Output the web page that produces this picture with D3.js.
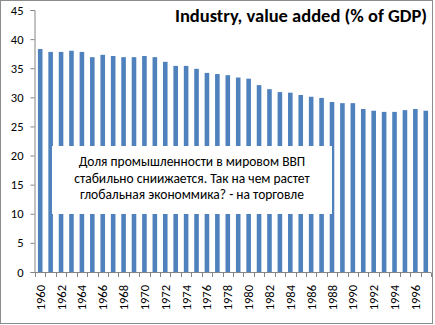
<!DOCTYPE html>
<html><head><meta charset="utf-8">
<script src="https://cdn.jsdelivr.net/npm/d3@7"></script>
<style>body{margin:0;background:#fff}svg{display:block}</style>
</head><body>
<svg id="c" width="435" height="325"></svg>
<script>
const years = [1960,1961,1962,1963,1964,1965,1966,1967,1968,1969,1970,1971,1972,1973,1974,1975,1976,1977,1978,1979,1980,1981,1982,1983,1984,1985,1986,1987,1988,1989,1990,1991,1992,1993,1994,1995,1996,1997];
const values = [38.3,37.8,37.8,38.0,37.8,36.9,37.3,37.1,36.9,36.9,37.1,36.9,36.1,35.4,35.4,34.9,34.2,34.0,33.8,33.4,33.2,32.1,31.4,30.9,30.8,30.4,30.1,29.9,29.2,29.0,29.0,28.0,27.7,27.5,27.5,27.8,28.0,27.7];
const yTicks = [0,5,10,15,20,25,30,35,40,45];
const xLabels = years.filter((y,i)=>i%2===0);
const title = "Industry, value added (% of GDP)";
const note = ["Доля промышленности в мировом ВВП","стабильно сниижается. Так на чем растет","глобальная экономмика? - на торговле"];

const svg = d3.select("#c");
const font = "Carlito, Lato, 'Open Sans', sans-serif";
svg.append("rect").attr("x",0.5).attr("y",0.5).attr("width",432).attr("height",323)
  .attr("fill","#fff").attr("stroke","#8c8c8c");

const x = d3.scaleBand().domain(years).range([35,431]).paddingInner(0.56).paddingOuter(0.28);
const y = d3.scaleLinear().domain([0,45]).range([272,10]);

// bars
svg.append("g").selectAll("rect").data(years).join("rect")
  .attr("x",d=>x(d)).attr("width",x.bandwidth())
  .attr("y",(d,i)=>y(values[i])).attr("height",(d,i)=>y(0)-y(values[i]))
  .attr("fill","#4f81bd");

// y axis
const ya = svg.append("g").attr("transform","translate(34.5,0)")
  .call(d3.axisLeft(y).tickValues(yTicks).tickSize(4).tickPadding(7));
ya.select(".domain").attr("stroke","#868686");
ya.selectAll(".tick line").attr("stroke","#868686");
ya.selectAll("text").attr("font-family",font).attr("font-size",12.5).attr("fill","#000");

// x axis
const xa = svg.append("g");
xa.append("line").attr("x1",34.5).attr("x2",431).attr("y1",272.5).attr("y2",272.5).attr("stroke","#868686");
const step = x.step();
const x0 = x.range()[0];
xa.selectAll("line.t").data(d3.range(years.length+1)).join("line").attr("class","t")
  .attr("x1",i=>Math.round(x0+i*step)+0.5).attr("x2",i=>Math.round(x0+i*step)+0.5)
  .attr("y1",272.5).attr("y2",277).attr("stroke","#868686");
xa.selectAll("text").data(xLabels).join("text")
  .attr("transform",d=>`translate(${x(d)+x.bandwidth()/2+4.5},285) rotate(-90)`)
  .attr("text-anchor","end").attr("font-family",font).attr("font-size",12.5).attr("fill","#000")
  .text(d=>d);

// title
svg.append("text").attr("x",427).attr("y",22).attr("text-anchor","end")
  .attr("font-family",font).attr("font-size",18.5).attr("font-weight","bold").attr("fill","#000")
  .text(title);

// note box
svg.append("rect").attr("x",52).attr("y",146).attr("width",280).attr("height",68).attr("fill","#fff");
svg.append("g").selectAll("text").data(note).join("text")
  .attr("x",192).attr("y",(d,i)=>166+i*16.5).attr("text-anchor","middle")
  .attr("font-family",font).attr("font-size",13.5).attr("fill","#000").text(d=>d);
</script>
</body></html>
